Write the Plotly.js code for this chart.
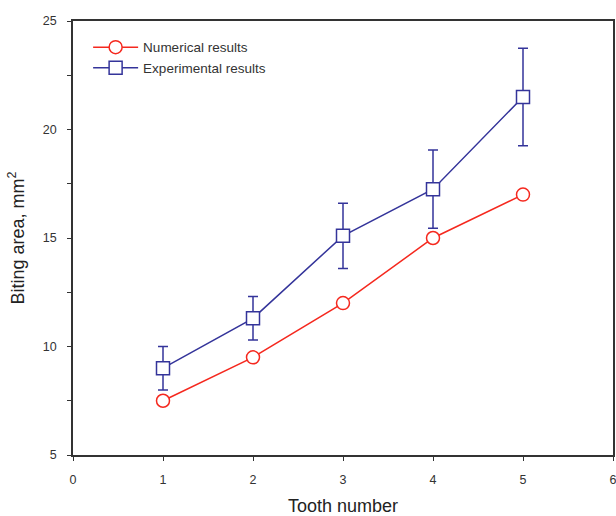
<!DOCTYPE html>
<html><head><meta charset="utf-8">
<script src="https://cdn.plot.ly/plotly-3.0.1.min.js"></script>
<style>body{margin:0}</style></head>
<body><div id="chart" style="width:616px;height:516px"></div>
<script>
const tooth = [1, 2, 3, 4, 5];
const numerical = [7.5, 9.5, 12, 15, 17];
const experimental = [9.0, 11.3, 15.1, 17.25, 21.5];
const expError = [1.0, 1.0, 1.5, 1.8, 2.25];
const red = '#f5281e', blue = '#34349a';
const traces = [
  {x: tooth, y: numerical, name: 'Numerical results', mode: 'lines+markers', type: 'scatter',
   line: {color: red, width: 1.5},
   marker: {symbol: 'circle', size: 13, color: 'white', line: {color: red, width: 1.5}}},
  {x: tooth, y: experimental, name: 'Experimental results', mode: 'lines+markers', type: 'scatter',
   line: {color: blue, width: 1.5},
   error_y: {type: 'data', array: expError, visible: true, color: blue, thickness: 1.5, width: 5},
   marker: {symbol: 'square', size: 13, color: 'white', line: {color: blue, width: 1.5}}}
];
const layout = {
  width: 616, height: 516,
  margin: {l: 73, r: 3, t: 21, b: 61},
  paper_bgcolor: 'white', plot_bgcolor: 'white',
  font: {family: 'Liberation Sans, Arial, sans-serif', color: '#333'},
  showlegend: true,
  legend: {x: 0.028, y: 0.975, xanchor: 'left', yanchor: 'top', bgcolor: 'rgba(0,0,0,0)',
           font: {size: 13.5, color: '#333'}, tracegroupgap: 0, itemwidth: 45},
  xaxis: {range: [0, 6], dtick: 1, tick0: 0, showgrid: false, zeroline: false,
          showline: true, mirror: true, linecolor: '#333', linewidth: 1.5,
          ticks: 'outside', ticklen: 4, tickcolor: '#333', tickfont: {size: 12.5, color: '#333'},
          ticklabelstandoff: 8, ticklabeloverflow: 'allow',
          title: {text: 'Tooth number', font: {size: 18, color: '#222'}, standoff: 28}},
  yaxis: {range: [5, 25], dtick: 5, tick0: 5, showgrid: false, zeroline: false,
          showline: true, mirror: true, linecolor: '#333', linewidth: 1.5,
          ticks: 'outside', ticklen: 4, tickcolor: '#333', tickfont: {size: 12.5, color: '#333'},
          ticklabelstandoff: 8,
          minor: {dtick: 2.5, ticks: 'outside', ticklen: 4, tickcolor: '#333', showgrid: false},
          title: {text: 'Biting area, mm<sup>2</sup>', font: {size: 18, color: '#222'}, standoff: 14}}
};
Plotly.newPlot('chart', traces, layout, {displayModeBar: false});
</script></body></html>
